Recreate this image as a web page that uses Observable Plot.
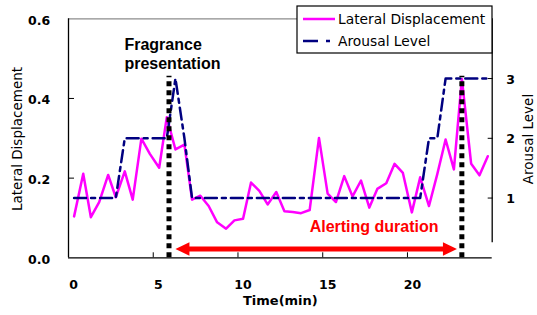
<!DOCTYPE html>
<html><head><meta charset="utf-8">
<script src="https://cdn.jsdelivr.net/npm/d3@7"></script>
<script src="https://cdn.jsdelivr.net/npm/@observablehq/plot@0.6"></script>
<style>
html,body{margin:0;padding:0;background:#fff;}
#chart{width:537px;height:315px;}
</style></head><body><div id="chart"></div>
<script>
// sample times (min)
const time = [0.33,0.87,1.32,1.81,2.34,2.79,3.32,3.79,4.30,4.80,5.35,5.80,6.31,6.84,7.29,7.78,8.27,8.77,9.30,9.79,
  10.30,10.77,11.26,11.75,12.26,12.74,13.23,13.72,14.23,14.78,15.29,15.78,16.27,16.76,17.26,17.75,18.22,18.75,19.24,19.73,
  20.26,20.75,21.27,21.76,22.25,22.74,23.21,23.76,24.25,24.74];
// Lateral Displacement (left axis)
const lateral = [0.104,0.211,0.102,0.140,0.208,0.152,0.217,0.146,0.299,0.261,0.226,0.353,0.272,0.284,0.146,0.156,0.130,0.089,0.073,0.094,
  0.098,0.189,0.168,0.134,0.165,0.117,0.115,0.112,0.120,0.301,0.161,0.140,0.205,0.154,0.194,0.126,0.173,0.187,0.236,0.213,
  0.114,0.202,0.130,0.210,0.297,0.222,0.449,0.236,0.207,0.255];
// Arousal Level (right axis)
const arousal = [1,1,1,1,1,1,2,2,2,2,2,2,3,2,1,1,1,1,1,1,
  1,1,1,1,1,1,1,1,1,1,1,1,1,1,1,1,1,1,1,1,
  1,1,2,2,3,3,3,3,3,3];
const arousalToLeft = 0.15;      // one arousal level = 0.15 on the left axis
const xTicks = [0,5,10,15,20];
const leftTicks = [0,0.2,0.4,0.6];
const rightTicks = [1,2,3];
const rightAxisStart = 0.25;      // arousal value where the right axis line begins
const markerTimes = [5.93, 23.21];
const markerTop = 0.456;
const arrowSpan = [6.31, 22.92];
const arrowLevel = 0.022;
const noteFragrance = {t: 3.3, v: 0.556, label: "Fragrance\npresentation"};
const noteAlert = {t: 14.23, v: 0.077, label: "Alerting duration"};
const seriesNames = ["Lateral Displacement", "Arousal Level"];
const axisTitles = {x: "Time(min)", yLeft: "Lateral Displacement", yRight: "Arousal Level"};

const rows = time.map((t, i) => ({t, lat: lateral[i], aro: arousal[i] * arousalToLeft}));

const headRight = {draw(ctx){ ctx.moveTo(0,0); ctx.lineTo(-14,-6.7); ctx.lineTo(-14,6.7); ctx.closePath(); }};
const headLeft = {draw(ctx){ ctx.moveTo(0,0); ctx.lineTo(14,-6.7); ctx.lineTo(14,6.7); ctx.closePath(); }};
const boldFont = "Liberation Sans, Arial, sans-serif";

const chart = Plot.plot({
  width: 537, height: 315,
  marginLeft: 68, marginRight: 45.3, marginTop: 18.3, marginBottom: 57.7,
  style: {fontFamily: "DejaVu Sans", background: "white", color: "black", overflow: "visible"},
  x: {domain: [0, 25]},
  y: {domain: [0, 0.6]},
  marks: [
    Plot.ruleY([0.6], {stroke: "#8c8c8c", strokeWidth: 1.3}),
    Plot.ruleX([0], {stroke: "black", strokeWidth: 1.3}),
    Plot.ruleY([0], {stroke: "black", strokeWidth: 1.3}),
    Plot.ruleX([25], {y1: rightAxisStart * arousalToLeft, y2: 0.6, stroke: "black", strokeWidth: 1.3}),
    // inward tick marks
    Plot.axisX({ticks: xTicks.slice(1), tickSize: -5, tickFormat: () => "", label: null}),
    Plot.axisY({ticks: leftTicks.slice(1, 3), tickSize: -6, tickFormat: () => "", label: null}),
    Plot.axisY({anchor: "right", ticks: rightTicks.map(v => v * arousalToLeft), tickSize: -5, tickFormat: () => "", label: null}),
    // tick labels
    Plot.axisX({ticks: xTicks, tickSize: 0, tickPadding: 22.7, dx: 5, tickFormat: d => String(d), fontWeight: "bold", fontSize: 12.5, label: null}),
    Plot.axisY({ticks: leftTicks, tickSize: 0, tickPadding: 18.3, dy: 2, tickFormat: d3.format(".1f"), fontWeight: "bold", fontSize: 12.5, label: null}),
    Plot.axisY({anchor: "right", ticks: rightTicks.map(v => v * arousalToLeft), tickSize: 0, tickPadding: 14, dy: 1,
      tickFormat: d => String(Math.round(d / arousalToLeft)), fontWeight: "bold", fontSize: 12.5, label: null}),
    Plot.text([axisTitles.x], {text: d => d, frameAnchor: "bottom", dy: 47, fontWeight: "bold", fontSize: 13}),
    // series
    Plot.line(rows, {x: "t", y: "lat", stroke: "#ff00ff", strokeWidth: 2.5}),
    Plot.line(rows, {x: "t", y: "aro", stroke: "#000080", strokeWidth: 2.5, strokeDasharray: "12,5,4,5"}),
    // markers
    Plot.ruleX(markerTimes, {y1: 0, y2: markerTop, stroke: "black", strokeWidth: 5, strokeDasharray: "5,4"}),
    Plot.ruleY([arrowLevel], {x1: arrowSpan[0], x2: arrowSpan[1], insetLeft: 10, insetRight: 10, stroke: "red", strokeWidth: 5}),
    Plot.dot([arrowSpan[0]], {x: d => d, y: arrowLevel, symbol: headLeft, fill: "red", stroke: "none", r: 5}),
    Plot.dot([arrowSpan[1]], {x: d => d, y: arrowLevel, symbol: headRight, fill: "red", stroke: "none", r: 5}),
    // annotations
    Plot.text([noteFragrance], {x: "t", y: "v", text: "label", textAnchor: "start", lineAnchor: "top", lineHeight: 1.2,
      fontFamily: boldFont, fontWeight: "bold", fontSize: 16, fill: "black"}),
    Plot.text([noteAlert], {x: "t", y: "v", text: "label", textAnchor: "start", lineAnchor: "middle",
      fontFamily: boldFont, fontWeight: "bold", fontSize: 16, fill: "red"})
  ]
});
document.getElementById("chart").appendChild(chart);

const svg = d3.select(chart);
// rotated y-axis titles
const titles = svg.append("g").attr("font-family", "DejaVu Sans").attr("font-size", 13.5)
  .attr("text-anchor", "middle").attr("fill", "black");
titles.append("text").attr("transform", "translate(17,139) rotate(-90)").attr("dy", "0.35em").text(axisTitles.yLeft);
titles.append("text").attr("transform", "translate(528.5,139) rotate(-90)").attr("dy", "0.35em").text(axisTitles.yRight);

// legend box
const lg = svg.append("g").attr("font-family", "DejaVu Sans").attr("font-size", 13.8).attr("text-anchor", "start");
lg.append("rect").attr("x", 297).attr("y", 6).attr("width", 195).attr("height", 47)
  .attr("fill", "white").attr("stroke", "black").attr("stroke-width", 1.2);
lg.append("line").attr("x1", 303).attr("x2", 335).attr("y1", 19).attr("y2", 19)
  .attr("stroke", "#ff00ff").attr("stroke-width", 2.5);
lg.append("line").attr("x1", 303).attr("x2", 335).attr("y1", 41).attr("y2", 41)
  .attr("stroke", "#000080").attr("stroke-width", 2.5).attr("stroke-dasharray", "15,8,4,8");
lg.append("text").attr("x", 338).attr("y", 19).attr("dy", "0.36em").attr("text-anchor", "start").text(seriesNames[0]);
lg.append("text").attr("x", 338).attr("y", 41).attr("dy", "0.36em").attr("text-anchor", "start").text(seriesNames[1]);
</script></body></html>
